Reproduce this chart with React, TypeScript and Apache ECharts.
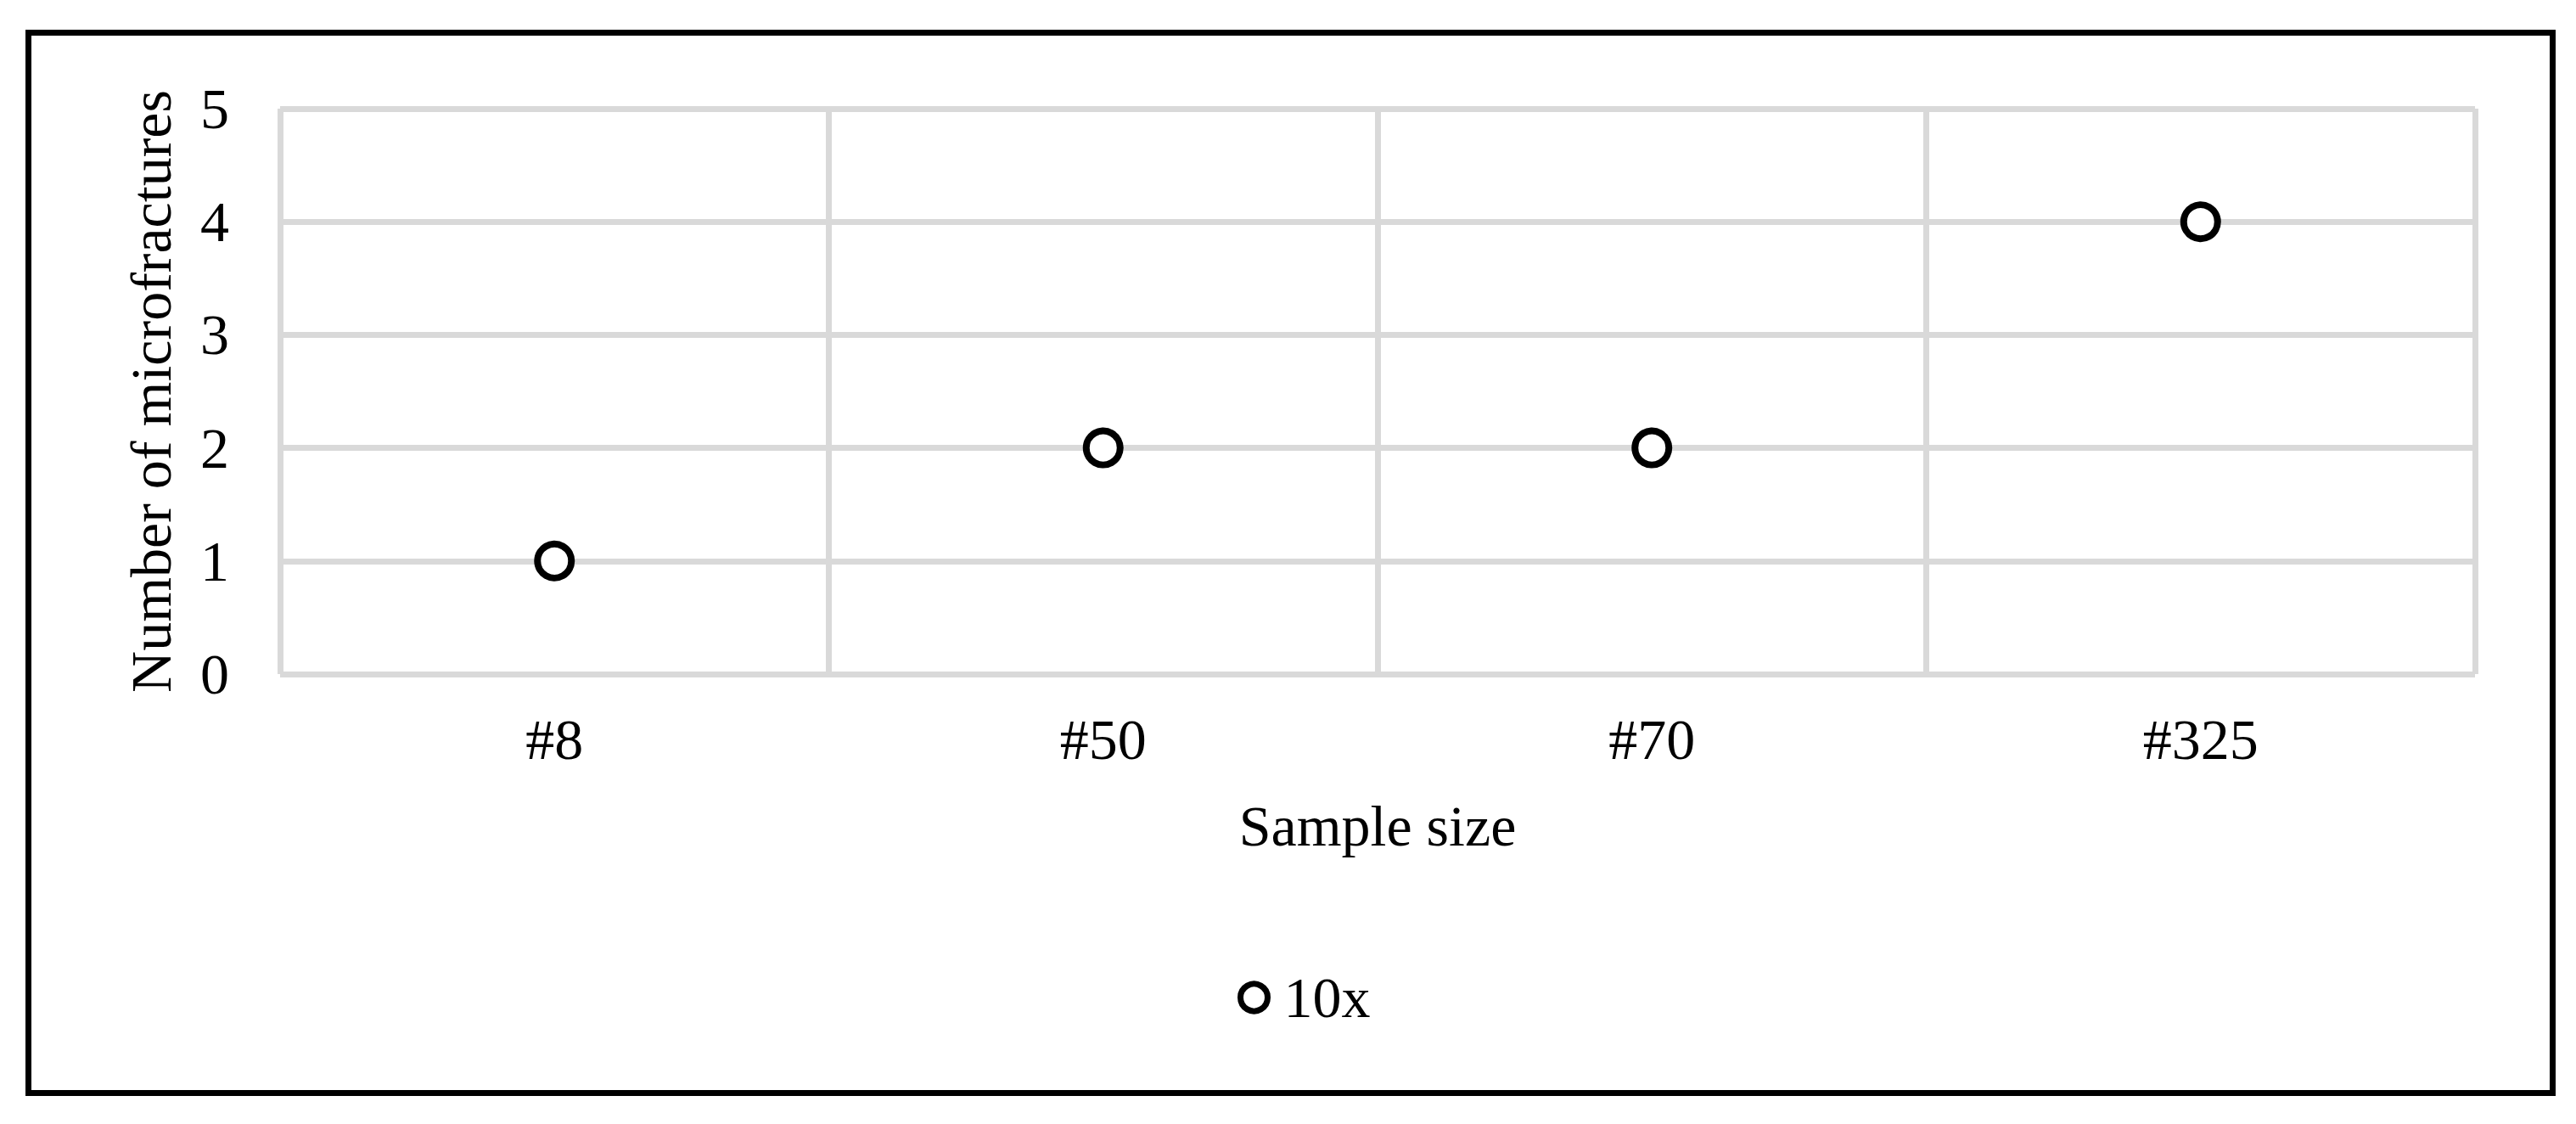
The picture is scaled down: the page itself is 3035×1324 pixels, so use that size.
import React, { useEffect, useRef } from "react";
import * as echarts from "echarts";

const categories = ["#8", "#50", "#70", "#325"];
const microfractures10x = [1, 2, 2, 4];
const seriesName = "10x";
const yTicks = { min: 0, max: 5, interval: 1 };

const FONT = "'Liberation Serif', 'Times New Roman', serif";
const GRID_COLOR = "#d9d9d9";

export default function App() {
  const ref = useRef<HTMLDivElement>(null);
  useEffect(() => {
    if (!ref.current) return;
    const chart = echarts.init(ref.current, undefined, { renderer: "svg" });
    chart.setOption({
      animation: false,
      backgroundColor: "#ffffff",
      textStyle: { fontFamily: FONT, color: "#000" },
      graphic: [
        {
          type: "rect",
          shape: { x: 33.5, y: 38.5, width: 2974, height: 1249 },
          style: { fill: "none", stroke: "#000", lineWidth: 7 },
          z: 100,
        },
      ],
      grid: { left: 330, right: 119, top: 128, bottom: 530, containLabel: false },
      legend: {
        data: [seriesName],
        left: 1458,
        top: 1141,
        padding: 0,
        itemWidth: 32,
        itemHeight: 32,
        icon: "circle",
        itemStyle: { color: "#fff", borderColor: "#000", borderWidth: 7 },
        textStyle: { fontFamily: FONT, fontSize: 68, color: "#000", padding: [0, 0, 0, 14] },
      },
      xAxis: {
        type: "category",
        data: categories,
        boundaryGap: true,
        axisLine: { show: false },
        axisTick: { show: false },
        axisLabel: { fontFamily: FONT, fontSize: 68, color: "#000", margin: 43 },
        splitLine: { show: true, lineStyle: { color: GRID_COLOR, width: 7 } },
        name: "Sample size",
        nameLocation: "middle",
        nameGap: 145,
        nameTextStyle: { fontFamily: FONT, fontSize: 68, color: "#000" },
      },
      yAxis: {
        type: "value",
        min: yTicks.min,
        max: yTicks.max,
        interval: yTicks.interval,
        axisLine: { show: false },
        axisTick: { show: false },
        axisLabel: { fontFamily: FONT, fontSize: 68, color: "#000", margin: 60 },
        splitLine: { show: true, lineStyle: { color: GRID_COLOR, width: 7 } },
        name: "Number of microfractures",
        nameLocation: "middle",
        nameRotate: 90,
        nameGap: 118,
        nameTextStyle: { fontFamily: FONT, fontSize: 68, color: "#000" },
      },
      series: [
        {
          name: seriesName,
          type: "scatter",
          data: microfractures10x,
          symbol: "circle",
          symbolSize: 40,
          itemStyle: { color: "#fff", borderColor: "#000", borderWidth: 8, opacity: 1 },
          z: 10,
        },
      ],
    });
    return () => chart.dispose();
  }, []);
  return (
    <div
      ref={ref}
      style={{ position: "absolute", left: 0, top: 0, width: 3035, height: 1324 }}
    />
  );
}
